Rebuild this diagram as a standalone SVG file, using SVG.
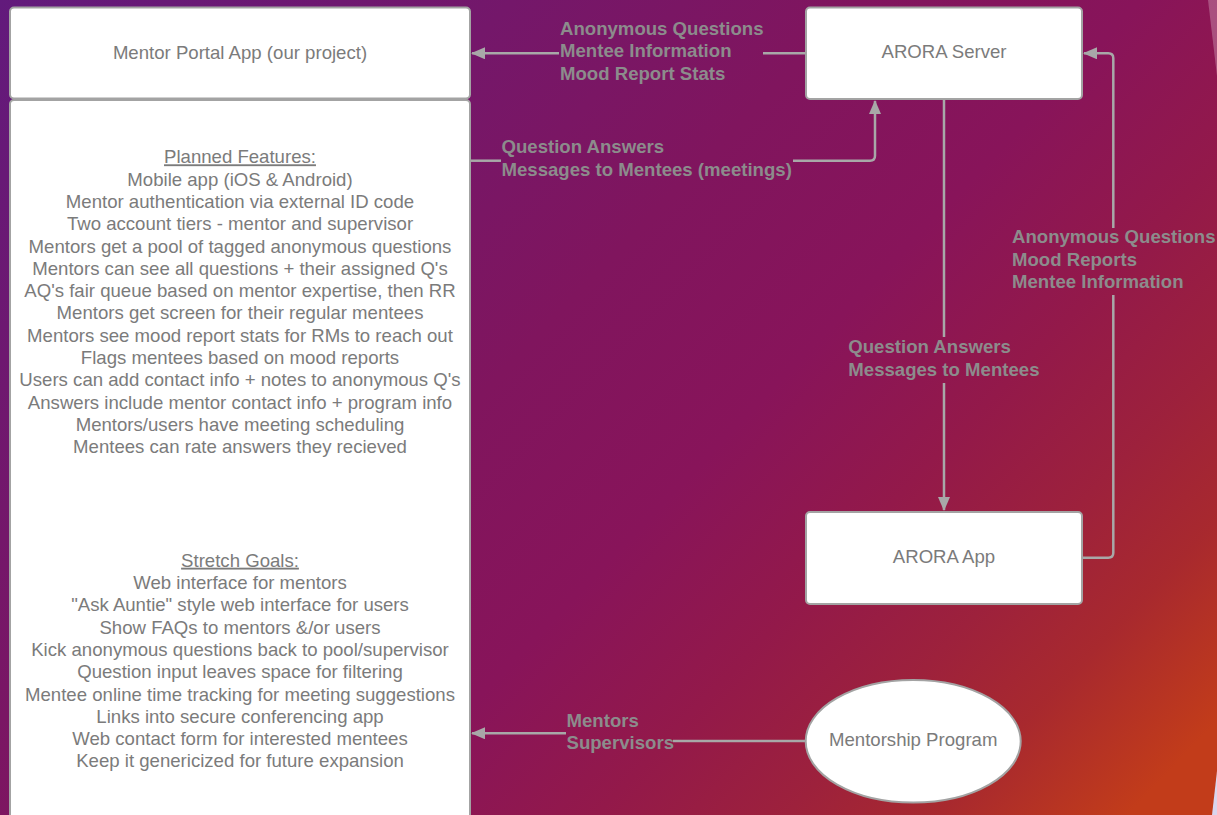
<svg xmlns="http://www.w3.org/2000/svg" width="1217" height="815" viewBox="0 0 1217 815">
<defs>
<linearGradient id="bg" gradientUnits="userSpaceOnUse" x1="0" y1="0" x2="1000" y2="950">
<stop offset="0" stop-color="#621a7c"/>
<stop offset="0.45" stop-color="#80155e"/>
<stop offset="0.6" stop-color="#88145a"/>
<stop offset="0.72" stop-color="#93194a"/>
<stop offset="0.82" stop-color="#9d213c"/>
<stop offset="0.9" stop-color="#a8292e"/>
<stop offset="1" stop-color="#c23c1a"/>
</linearGradient>
<marker id="arr" markerWidth="14" markerHeight="12" refX="13" refY="6" orient="auto" markerUnits="userSpaceOnUse">
<path d="M0,0 L14,6 L0,12 Z" fill="#a8a8a8"/>
</marker>
<style>
.node{fill:#ffffff;stroke:#a3a3a3;stroke-width:2}
.nt{font-family:"Liberation Sans",Arial,sans-serif;font-size:18.6px;fill:#7b7b7b;text-anchor:middle}
.ft{font-family:"Liberation Sans",Arial,sans-serif;font-size:18.6px;fill:#7b7b7b;text-anchor:middle}
.lbl{font-family:"Liberation Sans",Arial,sans-serif;font-size:18.6px;font-weight:bold;fill:#8c8c8c}
.edge{fill:none;stroke:#a8a8a8;stroke-width:2.5}
</style>
</defs>
<rect x="0" y="0" width="1217" height="815" fill="url(#bg)"/>
<polygon points="1208,0 1217,0 1217,76" fill="#ffffff" fill-opacity="0.25"/>
<polygon points="1217,771 1217,815 1212,815" fill="#d9d5ee"/>

<g id="connectors">
<path class="edge" d="M559,53.3 L472,53.3" marker-end="url(#arr)"/>
<path class="edge" d="M806,53.3 L763,53.3"/>
<path class="edge" d="M470,160.7 L501,160.7"/>
<path class="edge" d="M793,160.7 L870,160.7 Q875,160.7 875,155.7 L875,101" marker-end="url(#arr)"/>
<path class="edge" d="M944,100 L944,337"/>
<path class="edge" d="M944,383 L944,510" marker-end="url(#arr)"/>
<path class="edge" d="M1083,557.7 L1108.3,557.7 Q1113.3,557.7 1113.3,552.7 L1113.3,295"/>
<path class="edge" d="M1113.3,228 L1113.3,58.3 Q1113.3,53.3 1108.3,53.3 L1084,53.3" marker-end="url(#arr)"/>
<path class="edge" d="M566,733.3 L472,733.3" marker-end="url(#arr)"/>
<path class="edge" d="M673,741 L806,741"/>
<text class="lbl" x="560" y="35">Anonymous Questions</text>
<text class="lbl" x="560" y="57.3">Mentee Information</text>
<text class="lbl" x="560" y="79.5">Mood Report Stats</text>
<text class="lbl" x="501.5" y="153.3">Question Answers</text>
<text class="lbl" x="501.5" y="175.5">Messages to Mentees (meetings)</text>
<text class="lbl" x="848.3" y="353.3">Question Answers</text>
<text class="lbl" x="848.3" y="375.5">Messages to Mentees</text>
<text class="lbl" x="1012" y="243.3">Anonymous Questions</text>
<text class="lbl" x="1012" y="265.6">Mood Reports</text>
<text class="lbl" x="1012" y="287.8">Mentee Information</text>
<text class="lbl" x="566.5" y="726.7">Mentors</text>
<text class="lbl" x="566.5" y="749">Supervisors</text>
</g>

<g id="mentor-portal">
<rect class="node" x="10" y="7.5" width="460" height="91" rx="4"/>
<text class="nt" x="240" y="59">Mentor Portal App (our project)</text>
</g>

<g id="features">
<rect class="node" x="10" y="100" width="460" height="730" rx="4"/>
<text class="ft" x="240" y="163.3" text-decoration="underline">Planned Features:</text>
<text class="ft" x="240" y="185.6">Mobile app (iOS &amp; Android)</text>
<text class="ft" x="240" y="207.9">Mentor authentication via external ID code</text>
<text class="ft" x="240" y="230.2">Two account tiers - mentor and supervisor</text>
<text class="ft" x="240" y="252.5">Mentors get a pool of tagged anonymous questions</text>
<text class="ft" x="240" y="274.8">Mentors can see all questions + their assigned Q's</text>
<text class="ft" x="240" y="297.1">AQ's fair queue based on mentor expertise, then RR</text>
<text class="ft" x="240" y="319.4">Mentors get screen for their regular mentees</text>
<text class="ft" x="240" y="341.7">Mentors see mood report stats for RMs to reach out</text>
<text class="ft" x="240" y="364">Flags mentees based on mood reports</text>
<text class="ft" x="240" y="386.3">Users can add contact info + notes to anonymous Q's</text>
<text class="ft" x="240" y="408.6">Answers include mentor contact info + program info</text>
<text class="ft" x="240" y="430.9">Mentors/users have meeting scheduling</text>
<text class="ft" x="240" y="453.2">Mentees can rate answers they recieved</text>
<text class="ft" x="240" y="566.7" text-decoration="underline">Stretch Goals:</text>
<text class="ft" x="240" y="589">Web interface for mentors</text>
<text class="ft" x="240" y="611.3">"Ask Auntie" style web interface for users</text>
<text class="ft" x="240" y="633.6">Show FAQs to mentors &amp;/or users</text>
<text class="ft" x="240" y="655.9">Kick anonymous questions back to pool/supervisor</text>
<text class="ft" x="240" y="678.2">Question input leaves space for filtering</text>
<text class="ft" x="240" y="700.5">Mentee online time tracking for meeting suggestions</text>
<text class="ft" x="240" y="722.8">Links into secure conferencing app</text>
<text class="ft" x="240" y="745.1">Web contact form for interested mentees</text>
<text class="ft" x="240" y="767.4">Keep it genericized for future expansion</text>
</g>

<g id="arora-server">
<rect class="node" x="806" y="7.5" width="276" height="91.5" rx="4"/>
<text class="nt" x="944" y="58.3">ARORA Server</text>
</g>

<g id="arora-app">
<rect class="node" x="806" y="512" width="276" height="92" rx="4"/>
<text class="nt" x="944" y="562.7">ARORA App</text>
</g>

<g id="mentorship-program">
<ellipse class="node" cx="913.2" cy="741.3" rx="107.5" ry="61.3"/>
<text class="nt" x="913.2" y="746">Mentorship Program</text>
</g>
</svg>
